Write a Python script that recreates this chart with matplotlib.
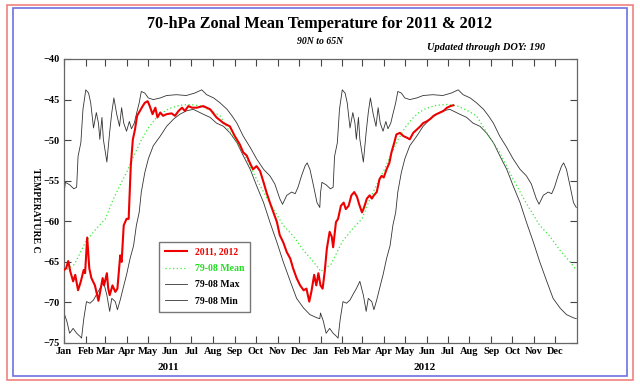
import numpy as np
import matplotlib
matplotlib.use('Agg')
import matplotlib.pyplot as plt
from matplotlib.patches import Rectangle

plt.rcParams['font.family'] = ['Liberation Serif', 'DejaVu Serif']

months = ['Jan', 'Feb', 'Mar', 'Apr', 'May', 'Jun', 'Jul', 'Aug', 'Sep', 'Oct', 'Nov', 'Dec']
month_start = [0, 31, 59, 90, 120, 151, 181, 212, 243, 273, 304, 334]
years = ['2011', '2012']

# 79-08 climatology, day of year (0-based) -> deg C
max_day = [0, 2, 8, 14, 18, 20, 24, 27, 31, 35,
           38, 42, 46, 49, 51, 54, 56, 61, 65, 68,
           71, 75, 79, 82, 85, 89, 93, 96, 100, 103,
           107, 110, 115, 120, 127, 137, 146, 160, 174, 186,
           196, 203, 213, 222, 232, 239, 246, 255, 265, 274,
           284, 293, 300, 307, 311, 317, 324, 329, 333, 338,
           343, 346, 350, 355, 360, 364]
max_val = [-56.5, -55.2, -55.5, -56.0, -55.8, -52.0, -50.3, -46.2, -43.8, -44.2,
           -45.4, -48.5, -46.6, -47.9, -49.9, -47.2, -49.9, -52.7, -49.0, -46.6,
           -44.8, -46.8, -48.3, -46.0, -47.9, -48.9, -47.7, -48.6, -47.9, -46.8,
           -45.4, -44.0, -44.2, -44.8, -45.0, -44.8, -44.5, -44.4, -44.5, -44.2,
           -43.8, -44.4, -44.8, -45.4, -46.2, -47.0, -47.9, -49.5, -50.9, -52.3,
           -53.6, -54.4, -55.4, -57.2, -57.9, -56.8, -56.4, -56.6, -55.8, -54.4,
           -53.2, -52.8, -53.6, -55.6, -57.7, -58.3]

min_day = [0, 4, 8, 13, 18, 23, 25, 28, 32, 37,
           42, 47, 51, 56, 61, 65, 68, 73, 76, 80,
           84, 89, 94, 99, 103, 107, 110, 115, 120, 127,
           137, 146, 156, 165, 174, 184, 198, 208, 217, 227,
           236, 246, 255, 265, 274, 284, 293, 303, 312, 322,
           331, 341, 350, 360, 364]
min_val = [-71.3, -72.3, -73.8, -73.2, -73.8, -74.2, -74.4, -72.1, -69.9, -70.1,
           -69.7, -68.9, -68.3, -67.4, -69.1, -71.1, -69.5, -69.9, -70.9, -69.7,
           -68.3, -66.6, -64.6, -63.0, -60.5, -58.9, -56.4, -54.0, -52.3, -50.7,
           -49.5, -48.3, -47.4, -46.8, -46.4, -46.2, -46.8, -47.2, -47.9, -48.3,
           -49.1, -50.3, -51.9, -53.6, -55.6, -57.7, -60.1, -62.6, -65.0, -67.4,
           -69.5, -70.7, -71.5, -71.9, -72.0]

mean_day = [0, 15, 31, 45, 59, 70, 80, 90, 100, 110,
            120, 130, 140, 150, 165, 180, 195, 210, 222, 236,
            255, 274, 293, 312, 326, 341, 355, 364]
mean_val = [-66.2, -65.3, -62.5, -61.0, -59.7, -57.3, -55.5, -53.8, -51.8, -50.0,
            -48.5, -47.4, -46.6, -46.1, -45.7, -45.6, -45.8, -46.4, -47.0, -49.0,
            -51.5, -54.8, -57.8, -60.5, -61.8, -63.6, -65.0, -66.0]

# 2011-2012 observed, days since 1 Jan 2011
obs_day = [0, 3, 6, 9, 13, 16, 20, 24, 28, 30,
           33, 36, 39, 44, 49, 51, 55, 57, 61, 63,
           65, 69, 73, 76, 80, 82, 85, 89, 92, 95,
           98, 101, 104, 108, 112, 115, 119, 122, 126, 130,
           133, 137, 141, 146, 153, 158, 163, 168, 172, 177,
           182, 189, 198, 208, 217, 227, 236, 243, 250, 255,
           260, 265, 269, 274, 279, 284, 288, 293, 298, 303,
           307, 312, 317, 322, 326, 331, 336, 341, 345, 349,
           352, 356, 359, 362, 365, 368, 371, 374, 378, 381,
           383, 387, 390, 394, 398, 401, 405, 409, 413, 417,
           420, 424, 427, 431, 435, 438, 441, 445, 449, 452,
           455, 459, 463, 466, 470, 473, 478, 483, 488, 492,
           497, 502, 507, 511, 516, 521, 526, 530, 535, 540,
           545, 550, 554]
obs_val = [-66.0, -65.8, -64.9, -66.2, -67.4, -66.6, -68.5, -67.4, -66.0, -66.4,
           -62.0, -65.8, -67.0, -67.9, -69.8, -68.9, -67.0, -67.9, -66.4, -68.3,
           -69.1, -67.9, -68.7, -68.3, -64.2, -65.0, -60.5, -59.7, -59.7, -53.2,
           -49.9, -48.7, -47.0, -46.4, -45.8, -45.4, -45.2, -45.8, -46.8, -46.0,
           -47.2, -46.6, -47.0, -46.8, -46.7, -47.0, -46.4, -46.0, -46.4, -45.8,
           -46.0, -46.0, -45.8, -46.2, -47.2, -47.9, -48.3, -49.5, -50.5, -51.5,
           -51.9, -52.9, -53.6, -53.2, -53.8, -55.2, -56.4, -57.7, -58.9, -60.1,
           -61.7, -62.6, -63.8, -64.6, -65.8, -67.0, -67.9, -68.5, -68.3, -69.9,
           -68.7, -66.6, -67.9, -66.4, -67.9, -68.3, -66.2, -63.4, -61.3, -61.9,
           -63.2, -60.1, -59.7, -58.1, -57.7, -58.5, -58.1, -56.8, -56.4, -57.0,
           -57.9, -58.9, -58.3, -57.2, -56.8, -57.2, -56.8, -56.4, -54.8, -54.4,
           -54.6, -53.6, -52.8, -51.5, -50.3, -49.3, -49.1, -49.5, -49.7, -49.9,
           -49.1, -48.7, -48.3, -47.9, -47.7, -47.4, -47.0, -46.8, -46.6, -46.4,
           -46.0, -45.8, -45.7]

fig = plt.figure(figsize=(6.4, 3.84), dpi=100)
W, H = 640.0, 384.0

# double frame round the page
fig.add_artist(Rectangle((7 / W, 4 / H), 626 / W, 375 / H, transform=fig.transFigure,
                         fill=False, edgecolor='#f08080', lw=1.2))
fig.add_artist(Rectangle((13 / W, 8 / H), 614 / W, 368 / H, transform=fig.transFigure,
                         fill=False, edgecolor='#7070e0', lw=1.2))

ax = fig.add_axes([64 / W, 1 - 343 / H, 513 / W, 284 / H])


def two_years(days, vals):
    # climatology repeats for 2011 and 2012
    d = np.concatenate([days, np.array(days) + 365])
    return d, list(vals) * 2


ax.plot(*two_years(max_day, max_val), color='#333333', lw=0.6, label='79-08 Max')
ax.plot(*two_years(min_day, min_val), color='#333333', lw=0.6, label='79-08 Min')
ax.plot(*two_years(mean_day, mean_val), color='#33ee33', lw=0.9, ls=(0, (1, 2)),
        label='79-08 Mean')
ax.plot(obs_day, obs_val, color='#ee0000', lw=1.5, label='2011, 2012', zorder=5)

ax.set_xlim(0, 730)
ax.set_ylim(-75, -40)
ax.set_yticks(np.arange(-75, -39, 5))
xt = month_start + [d + 365 for d in month_start]
ax.set_xticks(xt)
ax.set_xticklabels(months * 2)
ax.tick_params(direction='in', top=True, right=True, length=5, width=0.8,
               labelsize=7.5, pad=3, color='#444444')
for lab in ax.get_xticklabels() + ax.get_yticklabels():
    lab.set_fontweight('bold')
for s in ax.spines.values():
    s.set_color('#666666')
    s.set_linewidth(0.9)

for i, yr in enumerate(years):
    ax.text(148 + 365 * i, -0.085, yr, transform=ax.get_xaxis_transform(),
            ha='center', va='center', fontsize=8, fontweight='bold')

fig.text(0.5, 1 - 24 / H, '70-hPa Zonal Mean Temperature for 2011 & 2012',
         ha='center', va='center', fontsize=11.7, fontweight='bold')
fig.text(0.5, 1 - 41 / H, '90N to 65N', ha='center', va='center',
         fontsize=7, fontweight='bold', style='italic')
fig.text(545 / W, 1 - 48 / H, 'Updated through DOY: 190', ha='right', va='center',
         fontsize=7.5, fontweight='bold', style='italic')
fig.text(35 / W, 1 - 210 / H, 'TEMPERATURE C', rotation=270, ha='center', va='center',
         fontsize=7, fontweight='bold')

h, l = ax.get_legend_handles_labels()
order = [l.index('2011, 2012'), l.index('79-08 Mean'), l.index('79-08 Max'), l.index('79-08 Min')]
leg = ax.legend([h[i] for i in order], [l[i] for i in order], loc='upper left',
                bbox_to_anchor=(159 / W, 1 - 242 / H), bbox_transform=fig.transFigure,
                fancybox=False, edgecolor='#777777', framealpha=1, borderaxespad=0,
                prop={'weight': 'bold', 'size': 7}, handlelength=2.3, labelspacing=0.75,
                borderpad=0.6, handletextpad=0.8)
for txt, c in zip(leg.get_texts(), ['#ee0000', '#22dd22', 'black', 'black']):
    txt.set_color(c)

fig.savefig('out.png', dpi=100)
